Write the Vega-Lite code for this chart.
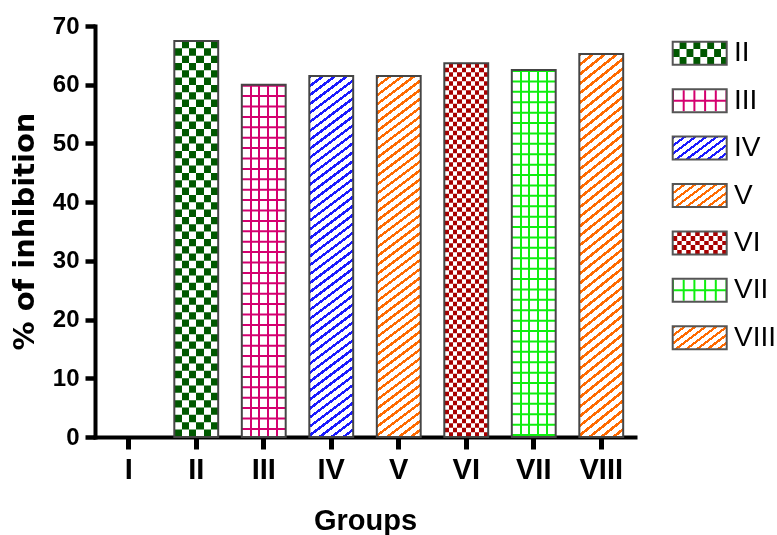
{
  "$schema": "https://vega.github.io/schema/vega-lite/v6.json",
  "width": 682,
  "height": 411,
  "autosize": {"type": "none"},
  "padding": {"left": 95, "top": 26, "right": 0, "bottom": 98},
  "background": "white",
  "data": {"values": [
    {"g": "I", "v": 0},
    {"g": "II", "v": 67.45},
    {"g": "III", "v": 60.0},
    {"g": "IV", "v": 61.5},
    {"g": "V", "v": 61.5},
    {"g": "VI", "v": 63.65},
    {"g": "VII", "v": 62.5},
    {"g": "VIII", "v": 65.25}
  ]},
  "config": {"view": {"stroke": null}},
  "layer": [
    {
      "encoding": {
        "x": {"field": "g", "type": "nominal", "sort": null, "title": "Groups",
          "scale": {"domain": ["I","II","III","IV","V","VI","VII","VIII"], "range": [0, 540], "paddingInner": 0.35, "paddingOuter": 0.175},
          "axis": {"labelAngle": 0, "domainColor": "black", "domainWidth": 4, "domainCap": "square", "tickColor": "black", "tickWidth": 5, "tickSize": 12, "labelFont": "Liberation Sans Narrow, Arial Narrow, Liberation Sans", "labelFontWeight": "bold", "labelFontSize": 29, "labelColor": "black", "labelPadding": 6, "titleFont": "Liberation Sans", "titleFontWeight": "bold", "titleFontSize": 29, "titleColor": "black", "titleY": 92, "titleBaseline": "alphabetic", "grid": false}},
        "y": {"field": "v", "type": "quantitative", "title": "% of inhibition",
          "scale": {"domain": [0, 70]},
          "axis": {"values": [0,10,20,30,40,50,60,70], "domainColor": "black", "domainWidth": 4, "domainCap": "square", "tickColor": "black", "tickWidth": 4.5, "tickSize": 10, "labelFont": "Liberation Sans Narrow, Arial Narrow, Liberation Sans", "labelFontWeight": "bold", "labelFontSize": 24, "labelColor": "black", "labelPadding": 6, "titleFont": "DejaVu Sans", "titleFontWeight": "bold", "titleFontSize": 29, "titleColor": "black", "titleAngle": 270, "titleBaseline": "alphabetic", "titleX": -62, "titleY": 205, "grid": false}}
      },
      "layer": [
        {
          "transform": [{"filter": "datum.g == 'II'"}],
          "mark": {"type": "bar", "fill": {"gradient": "linear", "x1": 0, "y1": 0, "x2": 1, "y2": 0, "stops": [
            {"offset": 0, "color": "#000"}, {"offset": 0.1667, "color": "#000"}, {"offset": 0.1667, "color": "#fff"}, {"offset": 0.3333, "color": "#fff"},
            {"offset": 0.3333, "color": "#000"}, {"offset": 0.5, "color": "#000"}, {"offset": 0.5, "color": "#fff"}, {"offset": 0.6667, "color": "#fff"},
            {"offset": 0.6667, "color": "#000"}, {"offset": 0.8333, "color": "#000"}, {"offset": 0.8333, "color": "#fff"}, {"offset": 1, "color": "#fff"}]}}
        },
        {
          "transform": [{"filter": "datum.g == 'II'"}],
          "mark": {"type": "rule", "stroke": "white", "strokeWidth": 43.8, "strokeDash": [7.33, 7.33], "blend": "difference"},
          "encoding": {"y2": {"datum": 0}}
        },
        {
          "transform": [{"filter": "datum.g == 'VI'"}],
          "mark": {"type": "bar", "fill": {"gradient": "linear", "x1": 0, "y1": 0, "x2": 1, "y2": 0, "stops": [
            {"offset": 0, "color": "#000"}, {"offset": 0.1, "color": "#000"}, {"offset": 0.1, "color": "#fff"}, {"offset": 0.2, "color": "#fff"},
            {"offset": 0.2, "color": "#000"}, {"offset": 0.3, "color": "#000"}, {"offset": 0.3, "color": "#fff"}, {"offset": 0.4, "color": "#fff"},
            {"offset": 0.4, "color": "#000"}, {"offset": 0.5, "color": "#000"}, {"offset": 0.5, "color": "#fff"}, {"offset": 0.6, "color": "#fff"},
            {"offset": 0.6, "color": "#000"}, {"offset": 0.7, "color": "#000"}, {"offset": 0.7, "color": "#fff"}, {"offset": 0.8, "color": "#fff"},
            {"offset": 0.8, "color": "#000"}, {"offset": 0.9, "color": "#000"}, {"offset": 0.9, "color": "#fff"}, {"offset": 1, "color": "#fff"}]}}
        },
        {
          "transform": [{"filter": "datum.g == 'VI'"}],
          "mark": {"type": "rule", "stroke": "white", "strokeWidth": 43.8, "strokeDash": [4.5, 4.5], "blend": "difference"},
          "encoding": {"y2": {"datum": 0}}
        },
        {
          "transform": [{"filter": "datum.g == 'III' || datum.g == 'VII'"}],
          "mark": {"type": "bar", "fill": {"gradient": "linear", "x1": 0, "y1": 0, "x2": 1, "y2": 0, "stops": [
            {"offset": 0, "color": "#fff"}, {"offset": 0.177, "color": "#fff"}, {"offset": 0.177, "color": "#000"}, {"offset": 0.223, "color": "#000"},
            {"offset": 0.223, "color": "#fff"}, {"offset": 0.377, "color": "#fff"}, {"offset": 0.377, "color": "#000"}, {"offset": 0.423, "color": "#000"},
            {"offset": 0.423, "color": "#fff"}, {"offset": 0.577, "color": "#fff"}, {"offset": 0.577, "color": "#000"}, {"offset": 0.623, "color": "#000"},
            {"offset": 0.623, "color": "#fff"}, {"offset": 0.777, "color": "#fff"}, {"offset": 0.777, "color": "#000"}, {"offset": 0.823, "color": "#000"},
            {"offset": 0.823, "color": "#fff"}, {"offset": 1, "color": "#fff"}]}}
        },
        {
          "transform": [{"filter": "datum.g == 'III' || datum.g == 'VII'"}],
          "mark": {"type": "rule", "stroke": "black", "strokeWidth": 43.8, "strokeDash": [2, 8.4]},
          "encoding": {"y2": {"datum": 0}}
        },
        {
          "transform": [{"filter": "datum.g == 'IV' || datum.g == 'V' || datum.g == 'VIII'"}],
          "mark": {"type": "bar", "fill": {"gradient": "linear", "x1": 0, "y1": 0, "x2": 0.0987, "y2": 1.0822, "stops": [
            {"offset": 0, "color": "#000"}, {"offset": 0.008, "color": "#000"}, {"offset": 0.008, "color": "#fff"}, {"offset": 0.0227, "color": "#fff"},
            {"offset": 0.0227, "color": "#000"}, {"offset": 0.0307, "color": "#000"}, {"offset": 0.0307, "color": "#fff"}, {"offset": 0.0455, "color": "#fff"},
            {"offset": 0.0455, "color": "#000"}, {"offset": 0.0535, "color": "#000"}, {"offset": 0.0535, "color": "#fff"}, {"offset": 0.0682, "color": "#fff"},
            {"offset": 0.0682, "color": "#000"}, {"offset": 0.0762, "color": "#000"}, {"offset": 0.0762, "color": "#fff"}, {"offset": 0.0909, "color": "#fff"},
            {"offset": 0.0909, "color": "#000"}, {"offset": 0.0989, "color": "#000"}, {"offset": 0.0989, "color": "#fff"}, {"offset": 0.1136, "color": "#fff"},
            {"offset": 0.1136, "color": "#000"}, {"offset": 0.1216, "color": "#000"}, {"offset": 0.1216, "color": "#fff"}, {"offset": 0.1364, "color": "#fff"},
            {"offset": 0.1364, "color": "#000"}, {"offset": 0.1444, "color": "#000"}, {"offset": 0.1444, "color": "#fff"}, {"offset": 0.1591, "color": "#fff"},
            {"offset": 0.1591, "color": "#000"}, {"offset": 0.1671, "color": "#000"}, {"offset": 0.1671, "color": "#fff"}, {"offset": 0.1818, "color": "#fff"},
            {"offset": 0.1818, "color": "#000"}, {"offset": 0.1898, "color": "#000"}, {"offset": 0.1898, "color": "#fff"}, {"offset": 0.2045, "color": "#fff"},
            {"offset": 0.2045, "color": "#000"}, {"offset": 0.2125, "color": "#000"}, {"offset": 0.2125, "color": "#fff"}, {"offset": 0.2273, "color": "#fff"},
            {"offset": 0.2273, "color": "#000"}, {"offset": 0.2353, "color": "#000"}, {"offset": 0.2353, "color": "#fff"}, {"offset": 0.25, "color": "#fff"},
            {"offset": 0.25, "color": "#000"}, {"offset": 0.258, "color": "#000"}, {"offset": 0.258, "color": "#fff"}, {"offset": 0.2727, "color": "#fff"},
            {"offset": 0.2727, "color": "#000"}, {"offset": 0.2807, "color": "#000"}, {"offset": 0.2807, "color": "#fff"}, {"offset": 0.2955, "color": "#fff"},
            {"offset": 0.2955, "color": "#000"}, {"offset": 0.3035, "color": "#000"}, {"offset": 0.3035, "color": "#fff"}, {"offset": 0.3182, "color": "#fff"},
            {"offset": 0.3182, "color": "#000"}, {"offset": 0.3262, "color": "#000"}, {"offset": 0.3262, "color": "#fff"}, {"offset": 0.3409, "color": "#fff"},
            {"offset": 0.3409, "color": "#000"}, {"offset": 0.3489, "color": "#000"}, {"offset": 0.3489, "color": "#fff"}, {"offset": 0.3636, "color": "#fff"},
            {"offset": 0.3636, "color": "#000"}, {"offset": 0.3716, "color": "#000"}, {"offset": 0.3716, "color": "#fff"}, {"offset": 0.3864, "color": "#fff"},
            {"offset": 0.3864, "color": "#000"}, {"offset": 0.3944, "color": "#000"}, {"offset": 0.3944, "color": "#fff"}, {"offset": 0.4091, "color": "#fff"},
            {"offset": 0.4091, "color": "#000"}, {"offset": 0.4171, "color": "#000"}, {"offset": 0.4171, "color": "#fff"}, {"offset": 0.4318, "color": "#fff"},
            {"offset": 0.4318, "color": "#000"}, {"offset": 0.4398, "color": "#000"}, {"offset": 0.4398, "color": "#fff"}, {"offset": 0.4545, "color": "#fff"},
            {"offset": 0.4545, "color": "#000"}, {"offset": 0.4625, "color": "#000"}, {"offset": 0.4625, "color": "#fff"}, {"offset": 0.4773, "color": "#fff"},
            {"offset": 0.4773, "color": "#000"}, {"offset": 0.4853, "color": "#000"}, {"offset": 0.4853, "color": "#fff"}, {"offset": 0.5, "color": "#fff"},
            {"offset": 0.5, "color": "#000"}, {"offset": 0.508, "color": "#000"}, {"offset": 0.508, "color": "#fff"}, {"offset": 0.5227, "color": "#fff"},
            {"offset": 0.5227, "color": "#000"}, {"offset": 0.5307, "color": "#000"}, {"offset": 0.5307, "color": "#fff"}, {"offset": 0.5455, "color": "#fff"},
            {"offset": 0.5455, "color": "#000"}, {"offset": 0.5535, "color": "#000"}, {"offset": 0.5535, "color": "#fff"}, {"offset": 0.5682, "color": "#fff"},
            {"offset": 0.5682, "color": "#000"}, {"offset": 0.5762, "color": "#000"}, {"offset": 0.5762, "color": "#fff"}, {"offset": 0.5909, "color": "#fff"},
            {"offset": 0.5909, "color": "#000"}, {"offset": 0.5989, "color": "#000"}, {"offset": 0.5989, "color": "#fff"}, {"offset": 0.6136, "color": "#fff"},
            {"offset": 0.6136, "color": "#000"}, {"offset": 0.6216, "color": "#000"}, {"offset": 0.6216, "color": "#fff"}, {"offset": 0.6364, "color": "#fff"},
            {"offset": 0.6364, "color": "#000"}, {"offset": 0.6444, "color": "#000"}, {"offset": 0.6444, "color": "#fff"}, {"offset": 0.6591, "color": "#fff"},
            {"offset": 0.6591, "color": "#000"}, {"offset": 0.6671, "color": "#000"}, {"offset": 0.6671, "color": "#fff"}, {"offset": 0.6818, "color": "#fff"},
            {"offset": 0.6818, "color": "#000"}, {"offset": 0.6898, "color": "#000"}, {"offset": 0.6898, "color": "#fff"}, {"offset": 0.7045, "color": "#fff"},
            {"offset": 0.7045, "color": "#000"}, {"offset": 0.7125, "color": "#000"}, {"offset": 0.7125, "color": "#fff"}, {"offset": 0.7273, "color": "#fff"},
            {"offset": 0.7273, "color": "#000"}, {"offset": 0.7353, "color": "#000"}, {"offset": 0.7353, "color": "#fff"}, {"offset": 0.75, "color": "#fff"},
            {"offset": 0.75, "color": "#000"}, {"offset": 0.758, "color": "#000"}, {"offset": 0.758, "color": "#fff"}, {"offset": 0.7727, "color": "#fff"},
            {"offset": 0.7727, "color": "#000"}, {"offset": 0.7807, "color": "#000"}, {"offset": 0.7807, "color": "#fff"}, {"offset": 0.7955, "color": "#fff"},
            {"offset": 0.7955, "color": "#000"}, {"offset": 0.8035, "color": "#000"}, {"offset": 0.8035, "color": "#fff"}, {"offset": 0.8182, "color": "#fff"},
            {"offset": 0.8182, "color": "#000"}, {"offset": 0.8262, "color": "#000"}, {"offset": 0.8262, "color": "#fff"}, {"offset": 0.8409, "color": "#fff"},
            {"offset": 0.8409, "color": "#000"}, {"offset": 0.8489, "color": "#000"}, {"offset": 0.8489, "color": "#fff"}, {"offset": 0.8636, "color": "#fff"},
            {"offset": 0.8636, "color": "#000"}, {"offset": 0.8716, "color": "#000"}, {"offset": 0.8716, "color": "#fff"}, {"offset": 0.8864, "color": "#fff"},
            {"offset": 0.8864, "color": "#000"}, {"offset": 0.8944, "color": "#000"}, {"offset": 0.8944, "color": "#fff"}, {"offset": 0.9091, "color": "#fff"},
            {"offset": 0.9091, "color": "#000"}, {"offset": 0.9171, "color": "#000"}, {"offset": 0.9171, "color": "#fff"}, {"offset": 0.9318, "color": "#fff"},
            {"offset": 0.9318, "color": "#000"}, {"offset": 0.9398, "color": "#000"}, {"offset": 0.9398, "color": "#fff"}, {"offset": 0.9545, "color": "#fff"},
            {"offset": 0.9545, "color": "#000"}, {"offset": 0.9625, "color": "#000"}, {"offset": 0.9625, "color": "#fff"}, {"offset": 0.9773, "color": "#fff"},
            {"offset": 0.9773, "color": "#000"}, {"offset": 0.9853, "color": "#000"}, {"offset": 0.9853, "color": "#fff"}, {"offset": 1, "color": "#fff"}]}}
        },
        {
          "transform": [{"filter": "datum.v > 0"}],
          "mark": {"type": "bar", "blend": "screen"},
          "encoding": {"color": {"field": "g", "type": "nominal", "scale": {"domain": ["II","III","IV","V","VI","VII","VIII"], "range": ["#005800","#d4006f","#1a1aff","#ff6a00","#a80000","#10ee10","#ff6a00"]}, "legend": null}}
        },
        {
          "transform": [{"filter": "datum.v > 0"}],
          "mark": {"type": "bar", "fill": "transparent", "stroke": "#454545", "strokeWidth": 2}
        }
      ]
    },
    {
      "transform": [{"filter": "datum.v > 0"}],
      "encoding": {
        "y": {"field": "g", "type": "nominal", "sort": null,
          "scale": {"domain": ["II","III","IV","V","VI","VII","VIII"], "range": [3.6, 335.4], "paddingInner": 0.515, "paddingOuter": 0.2575},
          "axis": null}
      },
      "layer": [
        {
          "mark": {"type": "rect", "fill": "white"},
          "encoding": {
            "x": {"datum": 0, "type": "quantitative", "scale": {"domain": [0, 100], "range": [577.7, 677.7]}, "axis": null},
            "x2": {"datum": 54}
          }
        },
        {
          "transform": [{"filter": "datum.g == 'II'"}],
          "mark": {"type": "rect", "fill": {"gradient": "linear", "x1": 0, "y1": 0, "x2": 0, "y2": 1, "stops": [
            {"offset": 0, "color": "#000"}, {"offset": 0.3333, "color": "#000"}, {"offset": 0.3333, "color": "#fff"}, {"offset": 0.6667, "color": "#fff"},
            {"offset": 0.6667, "color": "#000"}, {"offset": 1, "color": "#000"}]}},
          "encoding": {
            "x": {"datum": 0, "type": "quantitative", "scale": {"domain": [0, 100], "range": [577.7, 677.7]}, "axis": null},
            "x2": {"datum": 54}
          }
        },
        {
          "transform": [{"filter": "datum.g == 'II'"}],
          "mark": {"type": "rule", "stroke": "white", "strokeWidth": 23, "strokeDash": [6.9, 6.9], "blend": "difference"},
          "encoding": {
            "x": {"datum": 0, "type": "quantitative", "scale": {"domain": [0, 100], "range": [577.7, 677.7]}, "axis": null},
            "x2": {"datum": 54}
          }
        },
        {
          "transform": [{"filter": "datum.g == 'VI'"}],
          "mark": {"type": "rect", "fill": {"gradient": "linear", "x1": 0, "y1": 0, "x2": 0, "y2": 1, "stops": [
            {"offset": 0, "color": "#000"}, {"offset": 0.2, "color": "#000"}, {"offset": 0.2, "color": "#fff"}, {"offset": 0.4, "color": "#fff"},
            {"offset": 0.4, "color": "#000"}, {"offset": 0.6, "color": "#000"}, {"offset": 0.6, "color": "#fff"}, {"offset": 0.8, "color": "#fff"},
            {"offset": 0.8, "color": "#000"}, {"offset": 1, "color": "#000"}]}},
          "encoding": {
            "x": {"datum": 0, "type": "quantitative", "scale": {"domain": [0, 100], "range": [577.7, 677.7]}, "axis": null},
            "x2": {"datum": 54}
          }
        },
        {
          "transform": [{"filter": "datum.g == 'VI'"}],
          "mark": {"type": "rule", "stroke": "white", "strokeWidth": 23, "strokeDash": [4.5, 4.5], "blend": "difference"},
          "encoding": {
            "x": {"datum": 0, "type": "quantitative", "scale": {"domain": [0, 100], "range": [577.7, 677.7]}, "axis": null},
            "x2": {"datum": 54}
          }
        },
        {
          "transform": [{"filter": "datum.g == 'III' || datum.g == 'VII'"}],
          "mark": {"type": "rule", "stroke": "black", "strokeWidth": 21, "strokeDash": [2, 8.7], "strokeDashOffset": 0.7},
          "encoding": {
            "x": {"datum": 0, "type": "quantitative", "scale": {"domain": [0, 100], "range": [577.7, 677.7]}, "axis": null},
            "x2": {"datum": 54}
          }
        },
        {
          "transform": [{"filter": "datum.g == 'III' || datum.g == 'VII'"}],
          "mark": {"type": "rule", "stroke": "black", "strokeWidth": 2},
          "encoding": {
            "x": {"datum": 0, "type": "quantitative", "scale": {"domain": [0, 100], "range": [577.7, 677.7]}, "axis": null},
            "x2": {"datum": 54}
          }
        },
        {
          "transform": [{"filter": "datum.g == 'IV' || datum.g == 'V' || datum.g == 'VIII'"}],
          "mark": {"type": "rect", "fill": {"gradient": "linear", "x1": 0, "y1": 0, "x2": 1.1856, "y2": 0.6733, "stops": [
            {"offset": 0, "color": "#000"}, {"offset": 0.0438, "color": "#000"}, {"offset": 0.0438, "color": "#fff"}, {"offset": 0.125, "color": "#fff"},
            {"offset": 0.125, "color": "#000"}, {"offset": 0.1688, "color": "#000"}, {"offset": 0.1688, "color": "#fff"}, {"offset": 0.25, "color": "#fff"},
            {"offset": 0.25, "color": "#000"}, {"offset": 0.2938, "color": "#000"}, {"offset": 0.2938, "color": "#fff"}, {"offset": 0.375, "color": "#fff"},
            {"offset": 0.375, "color": "#000"}, {"offset": 0.4188, "color": "#000"}, {"offset": 0.4188, "color": "#fff"}, {"offset": 0.5, "color": "#fff"},
            {"offset": 0.5, "color": "#000"}, {"offset": 0.5438, "color": "#000"}, {"offset": 0.5438, "color": "#fff"}, {"offset": 0.625, "color": "#fff"},
            {"offset": 0.625, "color": "#000"}, {"offset": 0.6688, "color": "#000"}, {"offset": 0.6688, "color": "#fff"}, {"offset": 0.75, "color": "#fff"},
            {"offset": 0.75, "color": "#000"}, {"offset": 0.7938, "color": "#000"}, {"offset": 0.7938, "color": "#fff"}, {"offset": 0.875, "color": "#fff"},
            {"offset": 0.875, "color": "#000"}, {"offset": 0.9188, "color": "#000"}, {"offset": 0.9188, "color": "#fff"}, {"offset": 1, "color": "#fff"}]}},
          "encoding": {
            "x": {"datum": 0, "type": "quantitative", "scale": {"domain": [0, 100], "range": [577.7, 677.7]}, "axis": null},
            "x2": {"datum": 54}
          }
        },
        {
          "mark": {"type": "rect", "blend": "screen"},
          "encoding": {
            "x": {"datum": 0, "type": "quantitative", "scale": {"domain": [0, 100], "range": [577.7, 677.7]}, "axis": null},
            "x2": {"datum": 54},
            "color": {"field": "g", "type": "nominal", "scale": {"domain": ["II","III","IV","V","VI","VII","VIII"], "range": ["#005800","#d4006f","#1a1aff","#ff6a00","#a80000","#10ee10","#ff6a00"]}, "legend": null}
          }
        },
        {
          "mark": {"type": "rect", "fill": "transparent", "stroke": "#555555", "strokeWidth": 2},
          "encoding": {
            "x": {"datum": 0, "type": "quantitative", "scale": {"domain": [0, 100], "range": [577.7, 677.7]}, "axis": null},
            "x2": {"datum": 54}
          }
        },
        {
          "mark": {"type": "text", "align": "left", "baseline": "middle", "font": "Liberation Sans", "fontSize": 28, "color": "black"},
          "encoding": {
            "x": {"datum": 61.3, "type": "quantitative", "scale": {"domain": [0, 100], "range": [577.7, 677.7]}, "axis": null},
            "text": {"field": "g"}
          }
        }
      ]
    }
  ],
  "resolve": {"scale": {"x": "independent", "y": "independent"}}
}
